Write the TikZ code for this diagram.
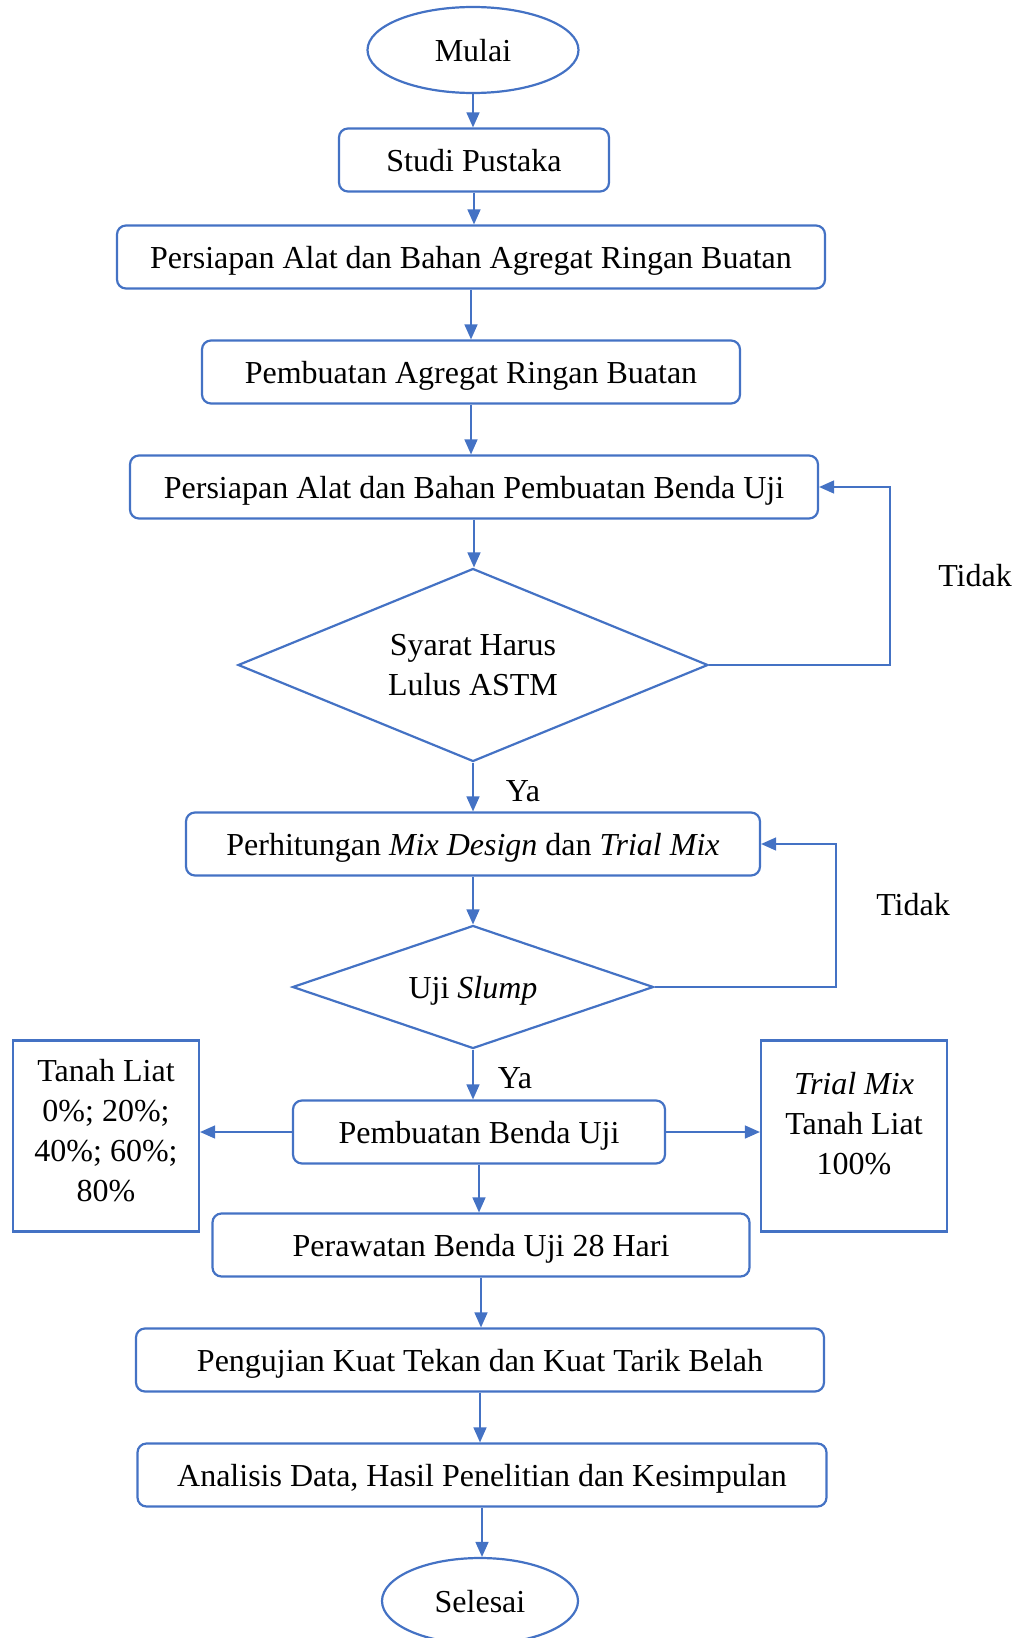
\documentclass[tikz,border=0pt]{standalone}
\usepackage{fontspec}
\setmainfont{Liberation Serif}
\usetikzlibrary{shapes.geometric,arrows.meta}
\definecolor{lineblue}{HTML}{4472C4}
\begin{document}
\begin{tikzpicture}[x=1pt,y=-1pt,
  txt/.style={font=\fontsize{32}{40}\selectfont, text=black},
  box/.style={txt, draw=lineblue, line width=2.2pt, rounded corners=9pt, minimum height=63pt, inner sep=0pt, text depth=0pt},
  sqbox/.style={draw=lineblue, line width=2.2pt, inner sep=0pt},
  term/.style={txt, ellipse, draw=lineblue, line width=2.2pt, inner sep=0pt, text depth=0pt},
  dia/.style={txt, diamond, draw=lineblue, line width=2.2pt, inner sep=0pt, align=center, text depth=0pt},
  conn/.style={draw=lineblue, line width=1.5pt, -{Triangle[length=15pt,width=13pt]}},
  lbl/.style={txt},
  blocktxt/.style={txt, align=center, inner sep=0pt}]
\useasboundingbox (0,0) rectangle (1024,1638);

\node[term, minimum width=211pt, minimum height=86pt] (mulai) at (473,50) {Mulai};
\node[box, minimum width=270pt] (studi) at (474,160) {Studi Pustaka};
\node[box, minimum width=708pt] (alat1) at (471,257) {Persiapan Alat dan Bahan Agregat Ringan Buatan};
\node[box, minimum width=538pt] (agregat) at (471,372) {Pembuatan Agregat Ringan Buatan};
\node[box, minimum width=688pt] (alat2) at (474,487) {Persiapan Alat dan Bahan Pembuatan Benda Uji};
\node[dia, shape aspect=2.4, minimum width=470pt, minimum height=193pt] (syarat) at (473,665) {Syarat Harus\\Lulus ASTM};
\node[box, minimum width=574pt] (mix) at (473,844) {Perhitungan \textit{Mix Design} dan \textit{Trial Mix}};
\node[dia, shape aspect=2.9, minimum width=361pt, minimum height=123pt] (slump) at (473,987) {Uji \textit{Slump}};
\node[box, minimum width=372pt] (benda) at (479,1132) {Pembuatan Benda Uji};
\node[sqbox, minimum width=186pt, minimum height=191pt] (kiri) at (106,1136) {};
\node[blocktxt] (kiriT) at (106,1131) {Tanah Liat\\0\%; 20\%;\\40\%; 60\%;\\80\%};
\node[sqbox, minimum width=186pt, minimum height=191pt] (kanan) at (854,1136) {};
\node[blocktxt] (kananT) at (854,1124) {\textit{Trial Mix}\\Tanah Liat\\100\%};
\node[box, minimum width=537pt] (rawat) at (481,1245) {Perawatan Benda Uji 28 Hari};
\node[box, minimum width=688pt] (uji) at (480,1360) {Pengujian Kuat Tekan dan Kuat Tarik Belah};
\node[box, minimum width=689pt] (analisis) at (482,1475) {Analisis Data, Hasil Penelitian dan Kesimpulan};
\node[term, minimum width=196pt, minimum height=86pt] (selesai) at (480,1601) {Selesai};

\node[lbl] (ya1) at (523,791) {Ya};
\node[lbl] (ya2) at (515,1078) {Ya};
\node[lbl] (tidak1) at (975,576) {Tidak};
\node[lbl] (tidak2) at (913,905) {Tidak};

\coordinate (c1) at (890,665);
\coordinate (c2) at (836,987);

\draw[conn] (mulai.south) -- (mulai.south |- studi.north);
\draw[conn] (studi.south) -- (studi.south |- alat1.north);
\draw[conn] (alat1.south) -- (alat1.south |- agregat.north);
\draw[conn] (agregat.south) -- (agregat.south |- alat2.north);
\draw[conn] (alat2.south) -- (alat2.south |- syarat.north);
\draw[conn] (syarat.south) -- (syarat.south |- mix.north);
\draw[conn] (mix.south) -- (mix.south |- slump.north);
\draw[conn] (slump.south) -- (slump.south |- benda.north);
\draw[conn] (benda.south) -- (benda.south |- rawat.north);
\draw[conn] (rawat.south) -- (rawat.south |- uji.north);
\draw[conn] (uji.south) -- (uji.south |- analisis.north);
\draw[conn] (analisis.south) -- (analisis.south |- selesai.north);
\draw[conn] (syarat.east) -- (c1) |- (alat2.east);
\draw[conn] (slump.east) -- (c2) |- (mix.east);
\draw[conn] (benda.west) -- (kiri.east |- benda.west);
\draw[conn] (benda.east) -- (kanan.west |- benda.east);
\end{tikzpicture}
\end{document}
